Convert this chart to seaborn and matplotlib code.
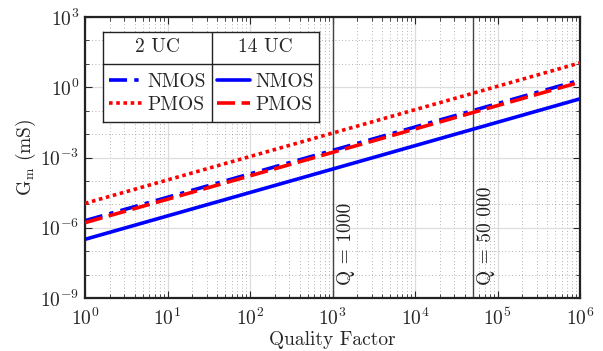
import matplotlib
matplotlib.use("Agg")
import matplotlib.pyplot as plt
import seaborn as sns
import pandas as pd
from matplotlib.lines import Line2D

# values (log-log, slope 1)
quality = [1, 1e3, 1e6]
nmos_2uc = [2.0e-6, 2.0e-3, 2.0]
pmos_2uc = [1.1e-5, 1.1e-2, 11.0]
nmos_14uc = [3.2e-7, 3.2e-4, 0.32]
pmos_14uc = [1.65e-6, 1.65e-3, 1.65]
q_marks = [1000, 50000]
q_labels = ["Q = 1000", "Q = 50 000"]

sns.set_style("ticks")
plt.rcParams["font.family"] = ["cmr10", "DejaVu Serif"]
plt.rcParams["mathtext.fontset"] = "cm"
plt.rcParams["axes.formatter.use_mathtext"] = True
plt.rcParams["font.size"] = 14

df = pd.DataFrame({
    "Q": quality * 4,
    "Gm": nmos_2uc + pmos_2uc + nmos_14uc + pmos_14uc,
    "series": ["n2"] * 3 + ["p2"] * 3 + ["n14"] * 3 + ["p14"] * 3,
})

styles = {
    "n2": dict(color="#0000ff", ls=(0, (5, 2, 1.2, 2))),
    "p2": dict(color="#ff0000", ls=(0, (1, 1))),
    "n14": dict(color="#0000ff", ls="-"),
    "p14": dict(color="#ff0000", ls=(0, (5, 1.8))),
}

fig = plt.figure(figsize=(6.03, 3.51), dpi=100)
ax = fig.add_axes([85 / 603, 53 / 351, 495 / 603, 281 / 351])

ax.set_xscale("log")
ax.set_yscale("log")
ax.set_xlim(1, 1e6)
ax.set_ylim(1e-9, 1e3)

# grid
ax.grid(True, which="major", color="#dddddd", lw=0.9, ls="-")
ax.grid(True, which="minor", color="#999999", lw=0.6, ls=(0, (1, 3)))
ax.set_axisbelow(True)

for x, lab in zip(q_marks, q_labels):
    ax.axvline(x, color="#444444", lw=1.0, zorder=1.5)
    ax.text(x * 1.12, 3.5e-9, lab, rotation=90, ha="left", va="bottom",
            fontsize=14, color="#222222")

# red dashed drawn over blue dash-dot, as in the reference
order = ["n14", "p2", "n2", "p14"]
for key in order:
    sub = df[df["series"] == key]
    sns.lineplot(data=sub, x="Q", y="Gm", ax=ax, color=styles[key]["color"],
                 lw=2.6, legend=False, zorder=3)
    ax.lines[-1].set_linestyle(styles[key]["ls"])

ax.set_yticks([1e-9, 1e-6, 1e-3, 1e0, 1e3])
ax.set_yticks([10.0 ** k for k in range(-9, 4)], minor=True)
ax.set_xticks([10.0 ** k for k in range(0, 7)])
ax.tick_params(which="both", direction="in", top=True, right=True)
ax.tick_params(which="major", length=5, width=0.8, labelsize=14, pad=4)
ax.tick_params(axis="x", which="major", pad=7)
ax.tick_params(which="minor", length=3, width=0.6)
ax.yaxis.set_minor_formatter(matplotlib.ticker.NullFormatter())
for s in ax.spines.values():
    s.set_linewidth(1.6)
    s.set_color("#222222")

ax.set_xlabel("Quality Factor", fontsize=14, labelpad=1)
ax.set_ylabel(r"$\mathrm{G_m}$ (mS)", fontsize=14, labelpad=2)

# table-like legend
tab = ax.inset_axes([0.036, 0.626, 0.436, 0.321])
tab.set_xlim(0, 1)
tab.set_ylim(0, 1)
tab.set_xticks([])
tab.set_yticks([])
tab.set_facecolor("white")
tab.set_zorder(5)
for s in tab.spines.values():
    s.set_linewidth(1.0)
    s.set_color("#222222")
tab.axhline(0.644, color="#222222", lw=1.0)
tab.axvline(0.505, color="#222222", lw=1.0)
tab.text(0.2525, 0.83, "2 UC", ha="center", va="center", fontsize=14)
tab.text(0.7525, 0.83, "14 UC", ha="center", va="center", fontsize=14)

def handle(key):
    return Line2D([], [], color=styles[key]["color"], lw=2.6, ls=styles[key]["ls"])

leg1 = tab.legend([handle("n2"), handle("p2")], ["NMOS", "PMOS"], loc="center",
                  bbox_to_anchor=(0.2525, 0.32), frameon=False, fontsize=14,
                  handlelength=1.7, handletextpad=0.3, labelspacing=0.25,
                  borderpad=0)
tab.add_artist(leg1)
tab.legend([handle("n14"), handle("p14")], ["NMOS", "PMOS"], loc="center",
           bbox_to_anchor=(0.7525, 0.32), frameon=False, fontsize=14,
           handlelength=1.7, handletextpad=0.3, labelspacing=0.25,
           borderpad=0)

fig.savefig("out.png", dpi=100)
